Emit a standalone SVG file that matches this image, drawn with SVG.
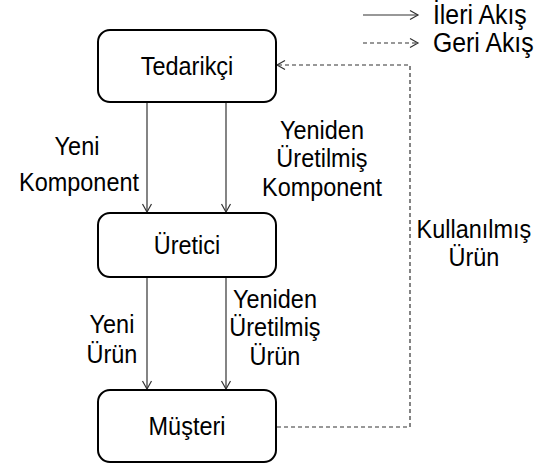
<svg xmlns="http://www.w3.org/2000/svg" width="544" height="467" viewBox="0 0 544 467">
<style>
.box{fill:#fff;stroke:#000;stroke-width:2}
.t{font-family:"Liberation Sans",Arial,sans-serif;font-size:25.5px;fill:#000;text-anchor:middle}
.tl{font-family:"Liberation Sans",Arial,sans-serif;font-size:27px;fill:#000}
.s{fill:none;stroke:#333;stroke-width:1.2}
.d{fill:none;stroke:#333;stroke-width:1.2;stroke-dasharray:4 3}
</style>
<defs>
<marker id="ah" markerWidth="12" markerHeight="12" refX="10" refY="6" orient="auto" markerUnits="userSpaceOnUse">
<path d="M2,1.5 L10,6 L2,10.5" fill="none" stroke="#333" stroke-width="1.2"/>
</marker>
</defs>
<rect width="544" height="467" fill="#fff"/>
<g id="connectors">
<line class="s" x1="147" y1="102" x2="147" y2="212" marker-end="url(#ah)"/>
<line class="s" x1="226" y1="102" x2="226" y2="212" marker-end="url(#ah)"/>
<line class="s" x1="147" y1="277" x2="147" y2="389" marker-end="url(#ah)"/>
<line class="s" x1="226" y1="277" x2="226" y2="389" marker-end="url(#ah)"/>
<polyline class="d" points="277,427 410,427 410,65 277,65" marker-end="url(#ah)"/>
</g>
<g id="legend">
<line class="s" x1="363" y1="15" x2="418" y2="15" marker-end="url(#ah)"/>
<line class="d" x1="363" y1="43" x2="418" y2="43" marker-end="url(#ah)"/>
<g transform="scale(0.92,1)">
<text class="tl" x="470.6" y="24">İleri Akış</text>
<text class="tl" x="470.6" y="52">Geri Akış</text>
</g>
</g>
<g id="tedarikci">
<rect class="box" x="98" y="30" width="178" height="72" rx="12"/>
<text class="t" transform="scale(0.92,1)" x="203.3" y="75">Tedarikçi</text>
</g>
<g id="uretici">
<rect class="box" x="98" y="213" width="178" height="64" rx="12"/>
<text class="t" transform="scale(0.92,1)" x="203.3" y="254">Üretici</text>
</g>
<g id="musteri">
<rect class="box" x="98" y="390" width="178" height="72" rx="12"/>
<text class="t" transform="scale(0.92,1)" x="203.3" y="435">Müşteri</text>
</g>
<g id="labels" transform="scale(0.92,1)">
<text class="t" x="83.7" y="155">Yeni</text>
<text class="t" x="85.9" y="191">Komponent</text>
<text class="t" x="350" y="139">Yeniden</text>
<text class="t" x="350" y="167">Üretilmiş</text>
<text class="t" x="350" y="196">Komponent</text>
<text class="t" x="121.7" y="333">Yeni</text>
<text class="t" x="121.7" y="363">Ürün</text>
<text class="t" x="298.9" y="308">Yeniden</text>
<text class="t" x="298.9" y="336">Üretilmiş</text>
<text class="t" x="298.9" y="365">Ürün</text>
<text class="t" x="515.2" y="238">Kullanılmış</text>
<text class="t" x="515.2" y="266">Ürün</text>
</g>
</svg>
